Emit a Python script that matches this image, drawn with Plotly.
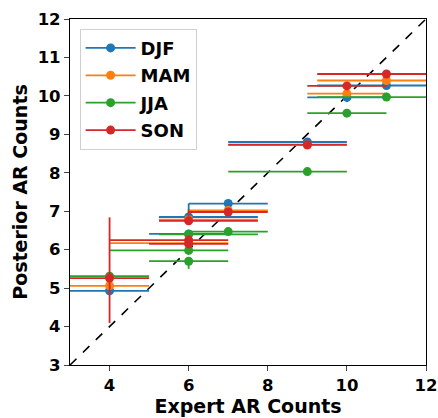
import plotly.graph_objects as go

seasons = ["DJF", "MAM", "JJA", "SON"]
colors = ["#1f77b4", "#ff7f0e", "#2ca02c", "#d62728"]

djf_x = [4, 6, 6, 7, 9, 10, 11]
djf_y = [4.93, 6.85, 6.41, 7.20, 8.80, 9.96, 10.27]
djf_xm = [1, 0.75, 1, 1, 2, 1, 1.75]
djf_xp = [1, 1.75, 1, 1, 1, 1, 1.75]
djf_ym = [0.10, 0.05, 0.05, 0.05, 0.10, 0.12, 0.05]
djf_yp = [0.10, 0.35, 0.05, 0.05, 0.05, 0.05, 0.05]

mam_x = [4, 6, 6, 7, 9, 10, 11]
mam_y = [5.06, 6.78, 6.17, 7.02, 8.72, 10.06, 10.40]
mam_xm = [1, 0.75, 2, 1, 2, 1, 1.75]
mam_xp = [1, 1.75, 1, 1, 1, 1, 1.75]
mam_ym = [0.10, 0.05, 0.05, 0.05, 0.05, 0.05, 0.05]
mam_yp = [0.10, 0.05, 0.05, 0.05, 0.05, 0.05, 0.05]

jja_x = [4, 6, 6, 6, 7, 9, 10, 11]
jja_y = [5.31, 5.70, 5.98, 6.40, 6.47, 8.03, 9.55, 9.97]
jja_xm = [1, 1, 2, 0.75, 1, 2, 1, 1.75]
jja_xp = [1, 1, 1, 1.75, 1, 1, 1, 1.75]
jja_ym = [0.10, 0.20, 0.05, 0.05, 0.05, 0.05, 0.05, 0.05]
jja_yp = [0.10, 0.10, 0.05, 0.05, 0.05, 0.05, 0.05, 0.05]

son_x = [4, 6, 6, 6, 7, 9, 10, 11]
son_y = [5.26, 6.15, 6.25, 6.75, 6.98, 8.73, 10.26, 10.57]
son_xm = [1, 1, 2, 0.75, 1, 2, 1, 1.75]
son_xp = [1, 1, 1, 1.75, 1, 1, 1, 1.75]
son_ym = [1.17, 0.05, 0.05, 0.05, 0.05, 0.05, 0.05, 0.05]
son_yp = [1.58, 0.05, 0.05, 0.30, 0.05, 0.05, 0.05, 0.05]

diag = [3, 12]
x_ticks = [4, 6, 8, 10, 12]
y_ticks = [3, 4, 5, 6, 7, 8, 9, 10, 11, 12]

series = [
    (djf_x, djf_y, djf_xm, djf_xp, djf_ym, djf_yp),
    (mam_x, mam_y, mam_xm, mam_xp, mam_ym, mam_yp),
    (jja_x, jja_y, jja_xm, jja_xp, jja_ym, jja_yp),
    (son_x, son_y, son_xm, son_xp, son_ym, son_yp),
]

fig = go.Figure()
fig.add_trace(go.Scatter(x=diag, y=diag, mode="lines",
                         line=dict(color="black", width=1.6, dash="dash"),
                         showlegend=False, hoverinfo="skip"))

for name, col, (x, y, xm, xp, ym, yp) in zip(seasons, colors, series):
    fig.add_trace(go.Scatter(
        x=x, y=y, mode="markers", name=name, showlegend=False,
        marker=dict(color=col, size=9),
        error_x=dict(type="data", symmetric=False, array=xp, arrayminus=xm,
                     color=col, thickness=1.8, width=0),
        error_y=dict(type="data", symmetric=False, array=yp, arrayminus=ym,
                     color=col, thickness=1.8, width=0),
    ))

for name, col in zip(seasons, colors):
    fig.add_trace(go.Scatter(x=[None], y=[None], mode="lines+markers", name=name,
                             legendgroup=name,
                             marker=dict(color=col, size=9),
                             line=dict(color=col, width=1.8)))

font_family = "DejaVu Sans"
fig.update_layout(
    width=438, height=418,
    margin=dict(l=70, r=12, t=19, b=53),
    plot_bgcolor="white", paper_bgcolor="white",
    font=dict(family=font_family, color="black"),
    legend=dict(x=0.027, y=0.972, xanchor="left", yanchor="top",
                bgcolor="white", bordercolor="#d0d0d0", borderwidth=1,
                font=dict(size=18, family=font_family, weight="bold"),
                itemwidth=50, tracegroupgap=1),
)
fig.update_xaxes(range=[3, 12], tickvals=x_ticks, ticktext=[str(v) for v in x_ticks],
                 automargin=False,
                 showgrid=False, zeroline=False, showline=True, linecolor="black",
                 linewidth=1.2, mirror=True, ticks="outside", ticklen=5, tickwidth=1.2,
                 tickfont=dict(size=16.5, weight="bold"),
                 title=dict(text="<b>Expert AR Counts</b>", font=dict(size=19), standoff=2))
fig.update_yaxes(range=[3, 12], tickvals=y_ticks, ticktext=[str(v) for v in y_ticks],
                 automargin=False,
                 showgrid=False, zeroline=False, showline=True, linecolor="black",
                 linewidth=1.2, mirror=True, ticks="outside", ticklen=5, tickwidth=1.2,
                 tickfont=dict(size=16.5, weight="bold"),
                 title=dict(text="<b>Posterior AR Counts</b>", font=dict(size=19), standoff=4))

fig.write_html("out.html", config={"displayModeBar": False},
               post_script="document.body.style.margin='0px';document.body.style.overflow='hidden';")
